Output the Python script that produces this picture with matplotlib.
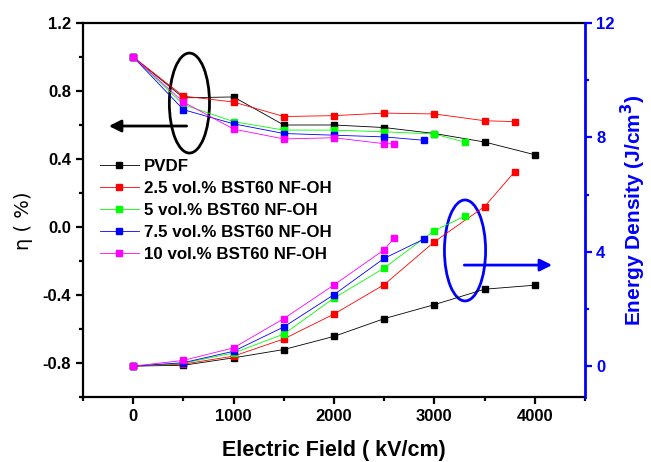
import matplotlib
matplotlib.use("Agg")
import matplotlib.pyplot as plt
from matplotlib.patches import Ellipse

plt.rcParams['font.family'] = ['Liberation Sans', 'DejaVu Sans']
plt.rcParams['font.weight'] = 'bold'

# Discharge efficiency (left axis)
eff_x = {
    'PVDF': [0, 500, 1000, 1500, 2000, 2500, 3000, 3500, 4000],
    '2.5': [0, 500, 1000, 1500, 2000, 2500, 3000, 3500, 3800],
    '5': [0, 500, 1000, 1500, 2000, 2500, 3000, 3300],
    '7.5': [0, 500, 1000, 1500, 2000, 2500, 2900],
    '10': [0, 500, 1000, 1500, 2000, 2500, 2600],
}
eff_pvdf = [1.0, 0.76, 0.765, 0.60, 0.60, 0.585, 0.55, 0.50, 0.425]
eff_25 = [1.0, 0.77, 0.735, 0.65, 0.655, 0.67, 0.665, 0.625, 0.62]
eff_5 = [1.0, 0.72, 0.62, 0.57, 0.57, 0.56, 0.547, 0.50]
eff_75 = [1.0, 0.69, 0.607, 0.55, 0.54, 0.53, 0.51]
eff_10 = [1.0, 0.735, 0.576, 0.518, 0.525, 0.49, 0.49]

# Energy density (right axis)
ed_pvdf = [0.0, 0.03, 0.29, 0.58, 1.04, 1.66, 2.15, 2.69, 2.83]
ed_25 = [0.0, 0.07, 0.35, 0.95, 1.82, 2.85, 4.35, 5.58, 6.80]
ed_5 = [0.0, 0.10, 0.46, 1.12, 2.38, 3.43, 4.74, 5.24]
ed_75 = [0.0, 0.12, 0.52, 1.37, 2.50, 3.77, 4.45]
ed_10 = [0.0, 0.20, 0.64, 1.66, 2.84, 4.07, 4.49]

labels = ['PVDF', '2.5 vol.% BST60 NF-OH', '5 vol.% BST60 NF-OH',
          '7.5 vol.% BST60 NF-OH', '10 vol.% BST60 NF-OH']
keys = ['PVDF', '2.5', '5', '7.5', '10']
colors = ['#000000', '#ff0000', '#00ff00', '#0000ff', '#ff00ff']
effs = [eff_pvdf, eff_25, eff_5, eff_75, eff_10]
eds = [ed_pvdf, ed_25, ed_5, ed_75, ed_10]

fig = plt.figure(figsize=(6.51, 4.62), dpi=100)
ax = fig.add_axes([83 / 651, 1 - 397 / 462, 502 / 651, 374 / 462])
ax2 = ax.twinx()

for k, lab, c, e, d in zip(keys, labels, colors, effs, eds):
    ax.plot(eff_x[k], e, '-s', color=c, lw=0.6, ms=5, mec=c, label=lab)
    ax2.plot(eff_x[k], d, '-s', color=c, lw=0.6, ms=5, mec=c)

ax.set_xlim(-500, 4500)
ax.set_ylim(-1.0, 1.2)
ax2.set_ylim(-1.08, 12)

ax.set_xticks([0, 1000, 2000, 3000, 4000])
ax.set_xticks([-500, 500, 1500, 2500, 3500, 4500], minor=True)
ax.set_yticks([-0.8, -0.4, 0.0, 0.4, 0.8, 1.2])
ax.set_yticks([-1.0, -0.6, -0.2, 0.2, 0.6, 1.0], minor=True)
ax.yaxis.set_major_formatter(plt.FuncFormatter(lambda v, p: f'{v:.1f}'))
ax2.set_yticks([0, 4, 8, 12])
ax2.set_yticks([2, 6, 10], minor=True)

for s in ['left', 'bottom', 'top']:
    ax.spines[s].set_linewidth(1.6)
ax.spines['right'].set_visible(False)
for s in ['left', 'bottom', 'top']:
    ax2.spines[s].set_visible(False)
ax2.spines['right'].set_color('#0000ff')
ax2.spines['right'].set_linewidth(2)

ax.tick_params(axis='both', which='major', direction='out', length=5, width=1.6,
               labelsize=12)
ax.tick_params(axis='both', which='minor', direction='out', length=3, width=1.6)
ax2.tick_params(axis='y', which='major', direction='out', length=5, width=1.6,
                colors='#0000ff', labelsize=12, pad=3)
ax2.tick_params(axis='y', which='minor', direction='out', length=3, width=1.6,
                colors='#0000ff')

ax.set_xlabel('Electric Field ( kV/cm)', fontsize=15.5, fontweight='bold',
              labelpad=12)
ax.set_ylabel('η ( %)', fontsize=14, fontweight='normal',
              family=['DejaVu Sans'])
ax.yaxis.set_label_coords(-0.10, 0.47)
ax2.set_ylabel('Energy Density (J/cm$^3$)', fontsize=15, fontweight='bold',
               color='#0000ff', labelpad=3)

leg = ax.legend(loc='upper left', bbox_to_anchor=(0.02, 0.655), frameon=False,
                fontsize=12.2, handlelength=2.3, labelspacing=0.42,
                handletextpad=0.3, borderaxespad=0)

# annotation ellipses and arrows
ax.add_patch(Ellipse((560, 0.729), 400, 0.588, fill=False, ec='black', lw=2))
ax.annotate('', xy=(-270, 0.594), xytext=(560, 0.594),
            arrowprops=dict(arrowstyle='-|>', color='black', lw=2,
                            mutation_scale=18))
ax.add_patch(Ellipse((3305, -0.138), 410, 0.594, fill=False, ec='#0000ff', lw=2))
ax.annotate('', xy=(4200, -0.224), xytext=(3270, -0.224),
            arrowprops=dict(arrowstyle='-|>', color='#0000ff', lw=2,
                            mutation_scale=18))

fig.savefig('out.png', dpi=100)
